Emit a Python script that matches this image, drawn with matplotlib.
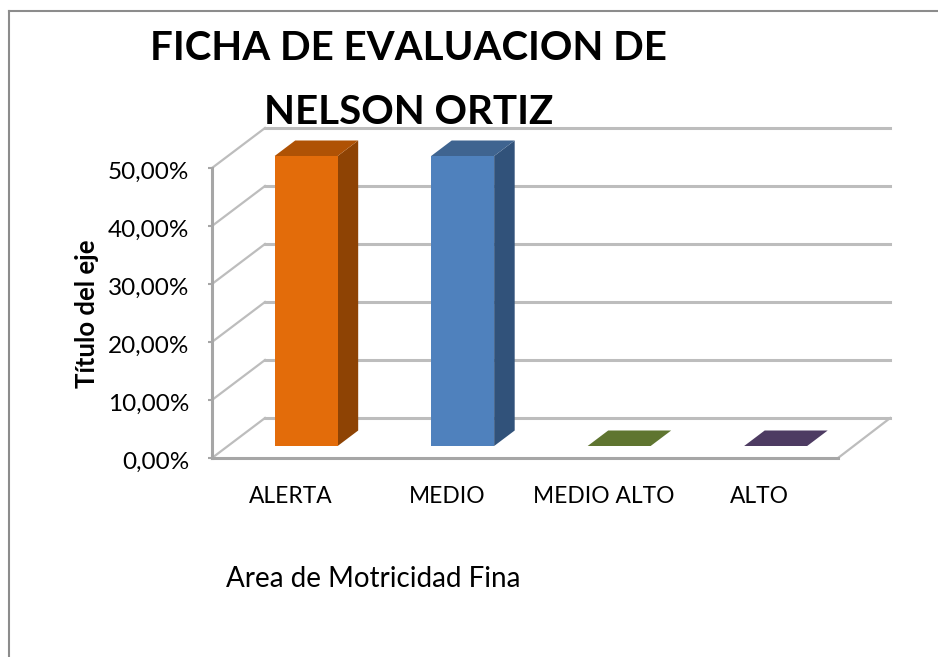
import matplotlib
matplotlib.use('Agg')
import matplotlib.pyplot as plt
from matplotlib.patches import Polygon, Rectangle
from matplotlib.lines import Line2D
from matplotlib.transforms import ScaledTranslation

categories = ['ALERTA', 'MEDIO', 'MEDIO ALTO', 'ALTO']
values = [0.50, 0.50, 0.0, 0.0]
ticks = [0.0, 0.1, 0.2, 0.3, 0.4, 0.5]
tick_labels = ['0,00%', '10,00%', '20,00%', '30,00%', '40,00%', '50,00%']

front_colors = ['#E36C0A', '#4F81BD', '#5F7530', '#4D3B62']
top_colors = ['#AF5205', '#3F6490', '#5F7530', '#4D3B62']
side_colors = ['#8E4304', '#31527A', '#5F7530', '#4D3B62']

W, H = 938, 657
plt.rcParams['font.family'] = ['Lato', 'DejaVu Sans']

fig = plt.figure(figsize=(W / 100, H / 100), dpi=100)
# axes is the front plane of the 3d box
ax = fig.add_axes([212 / W, 1 - 458 / H, 626 / W, 290 / H])
ax.set_xlim(-0.5, 3.5)
ax.set_ylim(0, 0.5)
ax.patch.set_visible(False)

# depth of the box and of the bars, in data units
box_dx = 53 / 156.5
box_dy = 40 / 580
bar_w = 63 / 156.5
bar_start = 12 / 40
bar_depth = 15.5 / 40

grid = '#BDBDBD'
for t in ticks:
    ax.plot([-0.5, -0.5 + box_dx], [t, t + box_dy], color=grid, lw=1.6, clip_on=False, zorder=1)
    ax.plot([-0.5 + box_dx, 3.5 + box_dx * 0.985], [t + box_dy, t + box_dy], color=grid, lw=2.2, clip_on=False, zorder=1)
ax.plot([3.5, 3.5 + box_dx * 0.985], [0, box_dy], color=grid, lw=1.6, clip_on=False, zorder=1)

for i, v in enumerate(values):
    x0 = i - bar_w / 2 + bar_start * box_dx
    x1 = x0 + bar_w
    y0 = bar_start * box_dy
    y1 = y0 + v
    ddx = bar_depth * box_dx
    ddy = bar_depth * box_dy
    ax.add_patch(Polygon([(x1, y0), (x1 + ddx, y0 + ddy), (x1 + ddx, y1 + ddy), (x1, y1)],
                         fc=side_colors[i], ec='none', clip_on=False, zorder=3))
    ax.add_patch(Polygon([(x0, y1), (x1, y1), (x1 + ddx, y1 + ddy), (x0 + ddx, y1 + ddy)],
                         fc=top_colors[i], ec='none', clip_on=False, zorder=3))
    if v > 0:
        ax.add_patch(Rectangle((x0, y0), bar_w, v, fc=front_colors[i], ec='none', clip_on=False, zorder=4))

for s in ['top', 'right']:
    ax.spines[s].set_visible(False)
for s in ['left', 'bottom']:
    ax.spines[s].set_color('#A6A6A6')
    ax.spines[s].set_linewidth(2.2)

ax.set_xticks(range(len(categories)))
ax.set_xticklabels(categories, fontsize=16.4)
ax.set_yticks(ticks)
ax.set_yticklabels(tick_labels, fontsize=17.5)
ax.tick_params(axis='y', length=3, color='#A6A6A6', width=1.5, pad=13.5)
ax.tick_params(axis='x', length=0, pad=20.5)

# labels sit a little lower in the reference
shift = ScaledTranslation(0, -2 / 72 * 0.72, fig.dpi_scale_trans)
for lab in ax.get_yticklabels():
    lab.set_transform(lab.get_transform() + shift)

ax.set_ylabel('Título del eje', fontsize=18.5, fontweight='bold')
ax.yaxis.set_label_coords(-0.1805, 0.497)

fig.text(408 / W, 1 - 49 / H, 'FICHA DE EVALUACION DE', fontsize=29, fontweight='bold', ha='center', va='center')
fig.text(409 / W, 1 - 112 / H, 'NELSON ORTIZ', fontsize=29, fontweight='bold', ha='center', va='center')
fig.text(373 / W, 1 - 579 / H, 'Area de Motricidad Fina', fontsize=20, ha='center', va='center')

# chart area border, only top and left show in the crop
border = dict(color='#8C8C8C', lw=1.5, transform=fig.transFigure)
fig.add_artist(Line2D([9 / W, 1], [1 - 11 / H, 1 - 11 / H], **border))
fig.add_artist(Line2D([9 / W, 9 / W], [0, 1 - 11 / H], **border))

fig.savefig('out.png', dpi=100)
